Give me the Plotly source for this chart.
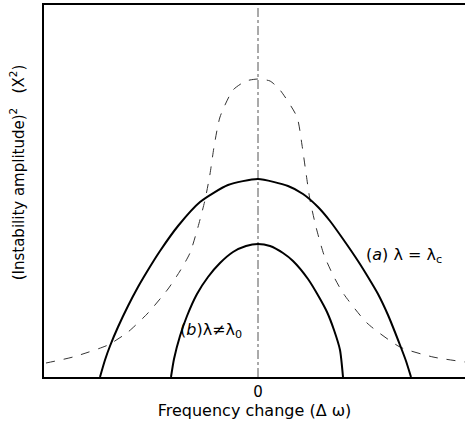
import plotly.graph_objects as go

# Frequency change (arbitrary units), amplitude^2 (arbitrary units)
curve_a_x = [-1.58, -1.53, -1.48, -1.40, -1.30, -1.20, -1.10, -0.98, -0.80, -0.58, -0.30, 0.0,
             0.30, 0.45, 0.60, 0.72, 0.85, 1.00, 1.10, 1.20, 1.30, 1.42, 1.48, 1.53]
curve_a_y = [0.0, 0.17, 0.31, 0.50, 0.71, 0.90, 1.07, 1.26, 1.51, 1.75, 1.92, 1.98,
             1.91, 1.83, 1.70, 1.56, 1.38, 1.16, 1.00, 0.83, 0.62, 0.32, 0.16, 0.0]

curve_b_x = [-0.87, -0.84, -0.78, -0.71, -0.61, -0.50, -0.38, -0.25, -0.12, 0.0,
             0.12, 0.25, 0.35, 0.50, 0.61, 0.69, 0.76, 0.82, 0.85]
curve_b_y = [0.0, 0.18, 0.41, 0.61, 0.83, 1.00, 1.14, 1.25, 1.31, 1.33,
             1.31, 1.24, 1.16, 0.98, 0.80, 0.65, 0.47, 0.27, 0.0]

dashed_x = [-2.12, -1.85, -1.50, -1.30, -1.10, -0.90, -0.78, -0.68, -0.60, -0.53, -0.48, -0.44, -0.38,
            -0.25, -0.12, 0.0, 0.12, 0.22, 0.39, 0.44, 0.48, 0.52, 0.58, 0.66, 0.75, 0.85, 1.09, 1.42, 1.75, 2.07]
dashed_y = [0.14, 0.20, 0.32, 0.45, 0.64, 0.88, 1.06, 1.24, 1.50, 1.77, 2.03, 2.30, 2.60,
            2.87, 2.96, 2.98, 2.96, 2.87, 2.60, 2.32, 2.04, 1.77, 1.50, 1.22, 1.02, 0.84, 0.54, 0.30, 0.20, 0.15]

center_x = [0, 0]
center_y = [0, 3.72]

x_range = [-2.14, 2.07]
y_range = [0, 3.72]
x_tick_vals = [0]
x_tick_text = ["0"]

font = "DejaVu Sans"

fig = go.Figure()
fig.add_trace(go.Scatter(x=center_x, y=center_y, mode="lines",
                         line=dict(color="#555555", width=1, dash="dashdot"), hoverinfo="skip"))
fig.add_trace(go.Scatter(x=dashed_x, y=dashed_y, mode="lines",
                         line=dict(color="#333333", width=1, dash="dash", shape="spline", smoothing=0.6)))
fig.add_trace(go.Scatter(x=curve_a_x, y=curve_a_y, mode="lines",
                         line=dict(color="black", width=2, shape="spline", smoothing=0.6)))
fig.add_trace(go.Scatter(x=curve_b_x, y=curve_b_y, mode="lines",
                         line=dict(color="black", width=2, shape="spline", smoothing=0.6)))

fig.add_annotation(x=1.06, y=1.22, xanchor="left", yanchor="middle",
                   text="(<i>a</i>) λ = λ<sub>c</sub>", showarrow=False,
                   font=dict(family=font, size=16, color="black"))
fig.add_annotation(x=-0.80, y=0.47, xanchor="left", yanchor="middle",
                   text="(<i>b</i>)λ≠λ<sub>0</sub>", showarrow=False,
                   font=dict(family=font, size=16, color="black"))
fig.add_annotation(xref="paper", yref="paper", x=-0.062, y=0.55, xanchor="center", yanchor="middle",
                   textangle=-90, text="(Instability amplitude)<sup>2</sup>   (X<sup>2</sup>)",
                   showarrow=False, font=dict(family=font, size=15, color="black"))

fig.update_layout(
    width=465, height=432,
    margin=dict(l=44, r=0, t=5, b=55),
    paper_bgcolor="white", plot_bgcolor="white",
    showlegend=False,
    xaxis=dict(range=x_range, showgrid=False, zeroline=False, showline=True, linecolor="black",
               linewidth=1.5, mirror=True, tickvals=x_tick_vals, ticktext=x_tick_text, ticks="",
               tickfont=dict(family=font, size=15, color="black"),
               title=dict(text="Frequency change (Δ ω)", standoff=2,
                          font=dict(family=font, size=16, color="black"))),
    yaxis=dict(range=y_range, showgrid=False, zeroline=False, showline=True, linecolor="black",
               linewidth=1.5, showticklabels=False, ticks=""),
)

fig.write_html("out.html")
